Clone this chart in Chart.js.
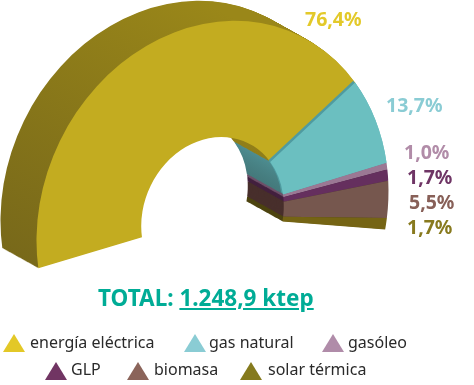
<!DOCTYPE html>
<html><head><meta charset="utf-8">
<style>
html,body{margin:0;padding:0;background:#fff;width:474px;height:385px;overflow:hidden}
#wrap{position:relative;width:474px;height:385px;font-family:"Noto Sans",sans-serif}
canvas{position:absolute;left:0;top:0}
.t{position:absolute;white-space:nowrap;line-height:0}
.pct{font-weight:700;font-size:19.5px}
.tri{position:absolute;width:22px;height:18px;clip-path:polygon(50% 0,100% 100%,0 100%)}
.leg{font-size:16px;color:#2a2a2a}
</style></head><body>
<div id="wrap"><canvas id="c" width="474" height="385"></canvas></div>
<script src="https://cdn.jsdelivr.net/npm/chart.js@4/dist/chart.umd.js"></script>
<script>
const categories=["energía eléctrica","gas natural","gasóleo","GLP","biomasa","solar térmica"];
const shares=[76.4,13.7,1.0,1.7,5.5,1.7];
const faceColors=["#c3ac20","#6bbfc0","#9b7894","#652f5e","#76574e","#756414"];
const wallColors=["#877619","#43767a","#6e5069","#43203f","#482f2c","#4d4410"];
const labelColors=["#e3c92a","#8accd4","#b18ca8","#6f3565","#886058","#887a1e"];
const legendColors=["#e3c827","#8accd4","#b08ca9","#713563","#8b645a","#857a1d"];
const totalPrefix="TOTAL: ";
const totalValue="1.248,9 ktep";

const CX=212.5,CY=216,DX=-36,DY=-20,STEPS=42;
const matrix=(el,ox,oy,ctx)=>{ctx.setTransform(1,-0.14,0,1.10,CX+ox-el.x,CY+oy+0.14*el.x-1.10*el.y);};
function paint(el,ctx,color){
  const o=Object.create(el);
  o.options=Object.create(el.options);
  o.options.backgroundColor=color;o.options.borderColor=color;o.options.borderWidth=0;
  el.draw.call(o,ctx);
}
const depth={id:'depth',
  beforeDatasetsDraw(chart){
    const ctx=chart.ctx,els=chart.getDatasetMeta(0).data,e0=els[0];
    const g0=ctx.createLinearGradient(e0.x-176,e0.y+60,e0.x+20,e0.y-180);
    g0.addColorStop(0,"#75661a");g0.addColorStop(1,"#9a8719");
    const g1=ctx.createLinearGradient(e0.x+20,e0.y-70,e0.x+70,e0.y+10);
    g1.addColorStop(0,"#5aa7ad");g1.addColorStop(1,"#3f6f70");
    ctx.save();
    for(let k=STEPS;k>=1;k--){
      const t=k/STEPS;
      matrix(e0,DX*t,DY*t,ctx);
      els.forEach((el,i)=>paint(el,ctx,i===0?g0:i===1?g1:wallColors[i]));
    }
    matrix(e0,0,0,ctx);
  },
  afterDatasetsDraw(chart){
    const ctx=chart.ctx,els=chart.getDatasetMeta(0).data,e0=els[0];
    matrix(e0,-1.8,-1.8,ctx);
    paint(els[1],ctx,"#4f9ba0");
    matrix(e0,0,0,ctx);
    paint(els[1],ctx,faceColors[1]);
    ctx.restore();
  }
};
new Chart(document.getElementById('c'),{
  type:'doughnut',
  data:{labels:categories,datasets:[{data:shares,backgroundColor:faceColors,borderWidth:0,clip:false}]},
  options:{responsive:false,animation:false,events:[],rotation:261.7,circumference:199.5,cutout:'40.5%',radius:176,
    layout:{padding:0},plugins:{legend:{display:false},tooltip:{enabled:false}}},
  plugins:[depth]
});

const wrap=document.getElementById('wrap');
function text(str,x,y,cls,color){const s=document.createElement('span');s.className='t '+cls;s.textContent=str;s.style.left=x+'px';s.style.top=y+'px';if(color)s.style.color=color;wrap.appendChild(s);return s;}
const pctX=[305,386,404,407,409,407],pctY=[19,105,152,177,202,227];
shares.forEach((v,i)=>text(v.toFixed(1).replace('.',',')+'%',pctX[i],pctY[i],'pct',labelColors[i]));
const tot=text('',98,298,'','#00ac96');tot.style.fontSize='22.5px';tot.style.fontWeight='700';
tot.innerHTML=totalPrefix+'<u>'+totalValue+'</u>';
const triX=[3,184,322,45,127,240],triY=[334,334,334,362,362,362];
const legX=[30,209,348,71,154,268],legY=[342,342,342,369,369,369];
categories.forEach((c,i)=>{
  const d=document.createElement('div');d.className='tri';d.style.left=triX[i]+'px';d.style.top=triY[i]+'px';d.style.background=legendColors[i];wrap.appendChild(d);
  text(c,legX[i],legY[i],'leg');
});
</script></body></html>
